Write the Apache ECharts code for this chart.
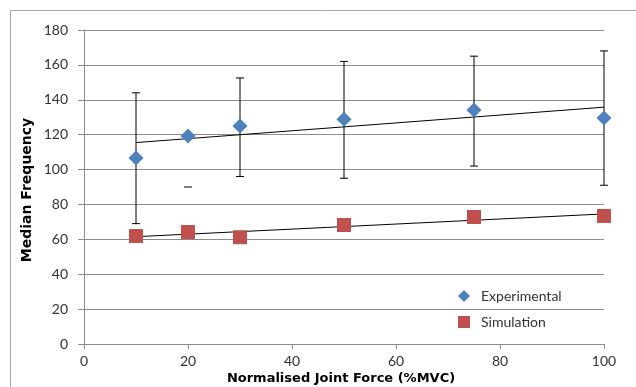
<!DOCTYPE html>
<html>
<head>
<meta charset="utf-8">
<script src="https://cdn.jsdelivr.net/npm/echarts@6/dist/echarts.min.js"></script>
<style>html,body{margin:0;padding:0;background:#fff}#c{width:636px;height:387px}</style>
</head>
<body>
<div id="c"></div>
<script>
// ---- data ----
var forceX = [10, 20, 30, 50, 75, 100];
var experimental = [106.6, 119.3, 125.0, 128.8, 134.2, 129.6];
var simulation = [61.9, 64.2, 61.2, 68.2, 72.8, 73.4];
var expErrLow = [69, 90, 96, 95, 102, 91];
var expErrHigh = [144, 120, 152.5, 162, 165, 168];
var expErrStem = [1, 0, 1, 1, 1, 1];
var yTicks = [0, 20, 40, 60, 80, 100, 120, 140, 160, 180];
var xTicks = [0, 20, 40, 60, 80, 100];

function linFit(xs, ys) {
  var n = xs.length, mx = 0, my = 0, sxx = 0, sxy = 0;
  for (var i = 0; i < n; i++) { mx += xs[i]; my += ys[i]; }
  mx /= n; my /= n;
  for (var j = 0; j < n; j++) { sxx += (xs[j]-mx)*(xs[j]-mx); sxy += (xs[j]-mx)*(ys[j]-my); }
  var b = sxy / sxx, a = my - b*mx;
  var x0 = xs[0], x1 = xs[n-1];
  return [[x0, a + b*x0], [x1, a + b*x1]];
}

var chart = echarts.init(document.getElementById('c'));
var font = 'Lato, "Liberation Sans", sans-serif';
var titleFont = '"DejaVu Sans", sans-serif';
var gridColor = '#8c8c8c';

chart.setOption({
  animation: false,
  backgroundColor: '#fff',
  grid: { left: 84, right: 32, top: 30, bottom: 43, containLabel: false },
  xAxis: {
    type: 'value', min: xTicks[0], max: xTicks[xTicks.length-1], interval: 20,
    splitLine: { show: false },
    axisLine: { show: true, lineStyle: { color: gridColor, width: 1 } },
    axisTick: { show: true, length: 5, lineStyle: { color: gridColor } },
    axisLabel: { color: '#333', fontFamily: font, fontSize: 14, margin: 10 }
  },
  yAxis: {
    type: 'value', min: yTicks[0], max: yTicks[yTicks.length-1], interval: 20,
    splitLine: { show: true, lineStyle: { color: gridColor, width: 1 } },
    axisLine: { show: true, lineStyle: { color: gridColor, width: 1 } },
    axisTick: { show: true, length: 6, lineStyle: { color: gridColor } },
    axisLabel: { color: '#333', fontFamily: font, fontSize: 14, margin: 16 }
  },
  legend: {
    orient: 'vertical', left: 453, top: 284, itemGap: 12,
    data: [
      { name: 'Experimental', icon: 'diamond' },
      { name: 'Simulation', icon: 'rect' }
    ],
    itemWidth: 12, itemHeight: 12,
    textStyle: { color: '#333', fontFamily: font, fontSize: 14, padding: [0,0,0,6] }
  },
  graphic: [
    { type: 'line', shape: { x1: 10.5, y1: 10.5, x2: 636, y2: 10.5 }, style: { stroke: '#a6a6a6', lineWidth: 1 } },
    { type: 'line', shape: { x1: 10.5, y1: 10.5, x2: 10.5, y2: 387 }, style: { stroke: '#a6a6a6', lineWidth: 1 } },
    { type: 'text', x: 341, y: 379, style: { text: 'Normalised Joint Force (%MVC)', fill: '#000', font: 'bold 13px ' + titleFont, textAlign: 'center', textVerticalAlign: 'middle' } },
    { type: 'text', x: 27, y: 190, rotation: Math.PI/2, style: { text: 'Median Frequency', fill: '#000', font: 'bold 14px ' + titleFont, textAlign: 'center', textVerticalAlign: 'middle' } }
  ],
  series: [
    {
      name: 'ExpErr', type: 'custom', z: 3,
      data: forceX.map(function (x, i) { return [x, expErrLow[i], expErrHigh[i], expErrStem[i]]; }),
      renderItem: function (params, api) {
        var lo = api.coord([api.value(0), api.value(1)]);
        var hi = api.coord([api.value(0), api.value(2)]);
        var hw = 4;
        var children = [
          { type: 'line', shape: { x1: lo[0]-hw, y1: lo[1], x2: lo[0]+hw, y2: lo[1] }, style: { stroke: '#000', lineWidth: 1 } },
          { type: 'line', shape: { x1: hi[0]-hw, y1: hi[1], x2: hi[0]+hw, y2: hi[1] }, style: { stroke: '#000', lineWidth: 1 } }
        ];
        if (api.value(3)) {
          children.push({ type: 'line', shape: { x1: lo[0], y1: lo[1], x2: hi[0], y2: hi[1] }, style: { stroke: '#000', lineWidth: 1 } });
        }
        return { type: 'group', children: children };
      }
    },
    {
      name: 'ExpTrend', type: 'line', data: linFit(forceX, experimental), showSymbol: false, symbol: 'none',
      lineStyle: { color: '#000', width: 1 }, z: 4, silent: true
    },
    {
      name: 'SimTrend', type: 'line', data: linFit(forceX, simulation), showSymbol: false, symbol: 'none',
      lineStyle: { color: '#000', width: 1 }, z: 4, silent: true
    },
    {
      name: 'Experimental', type: 'scatter', symbol: 'diamond', symbolSize: 15, z: 5,
      itemStyle: { color: '#4F81BD', opacity: 1 },
      data: forceX.map(function (x, i) { return [x, experimental[i]]; })
    },
    {
      name: 'Simulation', type: 'scatter', symbol: 'rect', symbolSize: 14, z: 5,
      itemStyle: { color: '#C0504D', opacity: 1 },
      data: forceX.map(function (x, i) { return [x, simulation[i]]; })
    }
  ]
});
</script>
</body>
</html>
